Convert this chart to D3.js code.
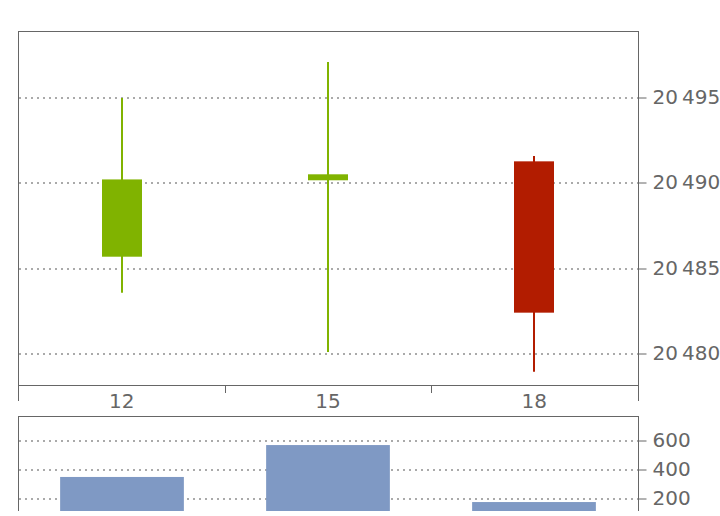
<!DOCTYPE html>
<html><head><meta charset="utf-8">
<script src="https://cdn.jsdelivr.net/npm/d3@7"></script>
<style>body{margin:0;background:#fff}svg{display:block}text{font-family:"DejaVu Sans",sans-serif;fill:#666}</style>
</head><body><svg id="c" width="720" height="516"></svg>
<script>
const categories = ["12", "15", "18"];
const openV  = [20485.70, 20490.18, 20491.29];
const closeV = [20490.23, 20490.53, 20482.42];
const highV  = [20495.00, 20497.11, 20491.60];
const lowV   = [20483.59, 20480.12, 20478.96];
const volume = [352, 572, 179];
const priceTicks = [20480, 20485, 20490, 20495];
const volumeTicks = [200, 400, 600];

const svg = d3.select("#c");
const L = 18, R = 638, T1 = 31, B1 = 385, T2 = 416, B2 = 528, CLIP = 511;
const axisCol = "#666", gridCol = "#aaa", FS = 20;
const fmt = v => { const s = String(v); return s.length > 3 ? s.slice(0, s.length-3) + "\u2009" + s.slice(-3) : s; };

const x = d3.scaleBand().domain(categories).range([L + 0.67, R - 0.67]);
const y = d3.scaleLinear().domain([20478.18, 20498.93]).range([B1, T1]);
const yv = d3.scaleLinear().domain([0, 772.4]).range([B2, T2]);
const cx = c => Math.round(x(c) + x.bandwidth() / 2);

// top panel grid
const g1 = svg.append("g");
g1.selectAll("line.grid").data(priceTicks).join("line")
  .attr("x1", L + 1).attr("x2", R).attr("y1", d => Math.round(y(d))).attr("y2", d => Math.round(y(d)))
  .attr("stroke", gridCol).attr("stroke-width", 2).attr("stroke-dasharray", "2,4");

// candles
const idx = d3.range(categories.length);
const col = i => closeV[i] >= openV[i] ? "#80b300" : "#b21c00";
g1.selectAll("line.wick").data(idx).join("line")
  .attr("x1", i => cx(categories[i])).attr("x2", i => cx(categories[i]))
  .attr("y1", i => y(highV[i])).attr("y2", i => y(lowV[i]))
  .attr("stroke", col).attr("stroke-width", 2);
const bw = 40;
g1.selectAll("rect.body").data(idx).join("rect")
  .attr("x", i => cx(categories[i]) - bw/2).attr("width", bw)
  .attr("y", i => y(Math.max(openV[i], closeV[i])))
  .attr("height", i => Math.abs(y(openV[i]) - y(closeV[i])))
  .attr("fill", col);

// frame top panel
const fr = svg.append("g").attr("stroke", axisCol).attr("stroke-width", 1).attr("fill", "none").attr("shape-rendering", "crispEdges");
fr.append("line").attr("x1", L).attr("x2", R).attr("y1", T1 + 0.5).attr("y2", T1 + 0.5);
fr.append("line").attr("x1", L + 0.5).attr("x2", L + 0.5).attr("y1", T1).attr("y2", 401);
fr.append("line").attr("x1", R + 0.5).attr("x2", R + 0.5).attr("y1", T1).attr("y2", 401);

// x axis
const xa = svg.append("g").attr("transform", `translate(0,${B1 + 0.5})`)
  .call(d3.axisBottom(x).tickSize(0).tickPadding(8));
xa.select(".domain").attr("stroke", axisCol).attr("d", `M${L},0H${R}`);
xa.selectAll("text").attr("font-size", FS).attr("fill", axisCol).style("font-family", "DejaVu Sans");
svg.append("g").selectAll("line").data(categories.slice(1)).join("line")
  .attr("x1", d => Math.round(x(d)) + 0.5).attr("x2", d => Math.round(x(d)) + 0.5)
  .attr("y1", B1).attr("y2", B1 + 8).attr("stroke", axisCol);

// right price axis
const ya = svg.append("g").attr("transform", `translate(${R + 0.5},0)`)
  .call(d3.axisRight(y).tickValues(priceTicks).tickFormat(fmt).tickSize(8).tickPadding(6));
ya.select(".domain").remove();
ya.selectAll(".tick").attr("transform", d => `translate(0,${Math.round(y(d))})`);
ya.selectAll("line").attr("stroke", axisCol);
ya.selectAll("text").attr("font-size", FS).attr("fill", axisCol).style("font-family", "DejaVu Sans");

// bottom panel
svg.append("clipPath").attr("id", "clip2").append("rect")
  .attr("x", 0).attr("y", T2).attr("width", 720).attr("height", CLIP - T2);
const g2 = svg.append("g").attr("clip-path", "url(#clip2)");
g2.selectAll("line.grid").data(volumeTicks).join("line")
  .attr("x1", L + 1).attr("x2", R).attr("y1", d => Math.round(yv(d))).attr("y2", d => Math.round(yv(d)))
  .attr("stroke", gridCol).attr("stroke-width", 2).attr("stroke-dasharray", "2,4");
const vbw = x.bandwidth() * 0.6;
g2.selectAll("rect").data(idx).join("rect")
  .attr("x", i => cx(categories[i]) - vbw/2).attr("width", vbw)
  .attr("y", i => yv(volume[i])).attr("height", i => yv(0) - yv(volume[i]))
  .attr("fill", "#7f99c4");
const fr2 = g2.append("g").attr("stroke", axisCol).attr("fill", "none").attr("shape-rendering", "crispEdges");
fr2.append("line").attr("x1", L).attr("x2", R).attr("y1", T2 + 0.5).attr("y2", T2 + 0.5);
fr2.append("line").attr("x1", L + 0.5).attr("x2", L + 0.5).attr("y1", T2).attr("y2", B2);
fr2.append("line").attr("x1", R + 0.5).attr("x2", R + 0.5).attr("y1", T2).attr("y2", B2);
const yva = svg.append("g").attr("transform", `translate(${R + 0.5},0)`)
  .call(d3.axisRight(yv).tickValues(volumeTicks).tickSize(8).tickPadding(6));
yva.select(".domain").remove();
yva.selectAll(".tick").attr("transform", d => `translate(0,${Math.round(yv(d))})`);
yva.selectAll("line").attr("stroke", axisCol);
yva.selectAll("text").attr("font-size", FS).attr("fill", axisCol).style("font-family", "DejaVu Sans");
</script></body></html>
